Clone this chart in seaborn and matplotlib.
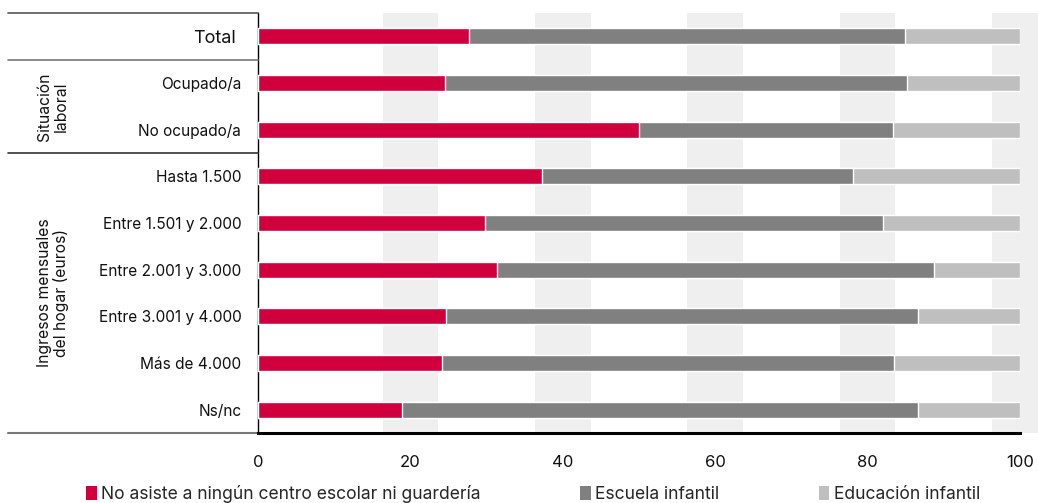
import matplotlib
matplotlib.use("Agg")
import matplotlib.pyplot as plt
import matplotlib.transforms as mtransforms
from matplotlib.patches import Patch
import seaborn as sns
import pandas as pd
import numpy as np

categories = ["Total", "Ocupado/a", "No ocupado/a", "Hasta 1.500", "Entre 1.501 y 2.000",
              "Entre 2.001 y 3.000", "Entre 3.001 y 4.000", "Más de 4.000", "Ns/nc"]
no_asiste = [27.7, 24.5, 50.0, 37.3, 29.8, 31.3, 24.7, 24.1, 18.9]
escuela_infantil = [57.2, 60.7, 33.3, 40.8, 52.2, 57.4, 61.9, 59.3, 67.7]
educacion_infantil = [15.1, 14.8, 16.7, 21.9, 18.0, 11.3, 13.4, 16.6, 13.4]
series_names = ["No asiste a ningún centro escolar ni guardería", "Escuela infantil", "Educación infantil"]
colors = ["#D0003F", "#808080", "#BFBFBF"]
xticks = [0, 20, 40, 60, 80, 100]
group_labels = ["Situación\nlaboral", "Ingresos mensuales\ndel hogar (euros)"]

sns.set_style("white")
plt.rcParams["font.family"] = ["Inter", "DejaVu Sans"]

df = pd.DataFrame({"cat": categories,
                   "a": no_asiste,
                   "b": escuela_infantil,
                   "c": educacion_infantil})
df["ab"] = df["a"] + df["b"]
df["abc"] = df["ab"] + df["c"]

fig = plt.figure(figsize=(10.38, 5.03), dpi=100)
ax = fig.add_axes([258/1038, 1 - 433/503, 762/1038, 420/503])

# background bands around gridlines
for t in xticks[1:]:
    ax.axvspan(t - 3.65, t + 3.65, color="#EFEFEF", zorder=0, lw=0, clip_on=(t != 100))

w = 0.34
sns.barplot(data=df, y="cat", x="abc", color=colors[2], orient="h", width=w, ax=ax,
            saturation=1, zorder=2)
sns.barplot(data=df, y="cat", x="ab", color=colors[1], orient="h", width=w, ax=ax,
            saturation=1, zorder=3)
sns.barplot(data=df, y="cat", x="a", color=colors[0], orient="h", width=w, ax=ax,
            saturation=1, zorder=4)

ax.set_xlim(0, 100)
ax.set_ylim(8.5, -0.5)
ax.set_xlabel("")
ax.set_ylabel("")
ax.set_xticks(xticks)
ax.set_xticklabels([str(t) for t in xticks], fontsize=12, color="#111111")
ax.tick_params(axis="x", length=0, pad=16)
ax.tick_params(axis="y", length=0, pad=12)
ax.set_yticks(range(len(categories)))
ax.set_yticklabels(categories, fontsize=11.1, color="#111111")
for lab in ax.get_yticklabels():
    if lab.get_text() == "Total":
        lab.set_fontsize(13)
        lab.set_x(-0.007)

for s in ["top", "right"]:
    ax.spines[s].set_visible(False)
ax.spines["left"].set_color("#000000")
ax.spines["left"].set_linewidth(1.0)
ax.spines["bottom"].set_color("#000000")
ax.spines["bottom"].set_linewidth(2.2)
ax.spines["bottom"].set_zorder(6)

trans = mtransforms.blended_transform_factory(ax.transAxes, ax.transData)
x0 = (8 - 258) / 762
for yv, col, lw in [(-0.5, "#555555", 1.2), (0.5, "#777777", 1.2), (2.5, "#333333", 1.2), (8.5, "#777777", 1.5)]:
    ax.plot([x0, 0], [yv, yv], transform=trans, color=col, lw=lw, clip_on=False, zorder=5)

xg = (53 - 258) / 762
ax.text(xg, 1.5, group_labels[0], transform=trans, rotation=90, ha="center", va="center",
        multialignment="center", fontsize=11.3, color="#111111", linespacing=1.15)
ax.text(xg, 5.5, group_labels[1], transform=trans, rotation=90, ha="center", va="center",
        multialignment="center", fontsize=11.3, color="#111111", linespacing=1.15)

handles = [Patch(facecolor=c, edgecolor="none") for c in colors]
fig.legend(handles, series_names, loc="center", bbox_to_anchor=(533/1038, 1 - 494/503),
           ncol=3, frameon=False, fontsize=12.6, handlelength=0.6, handleheight=0.8,
           handletextpad=0.25, columnspacing=5.7, borderaxespad=0)

fig.savefig("out.png", dpi=100)
